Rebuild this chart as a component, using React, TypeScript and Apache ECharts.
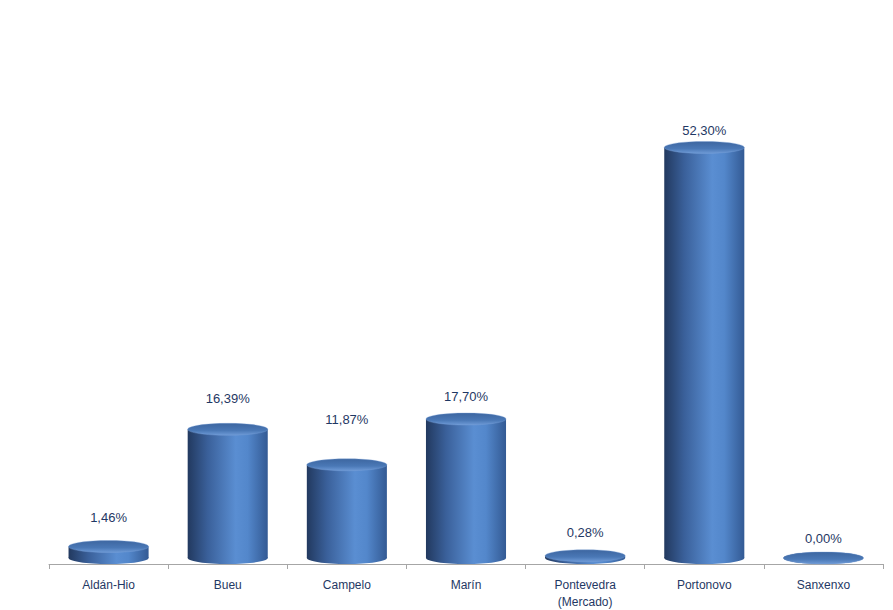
import React, { useEffect, useRef } from "react";
import * as echarts from "echarts";

const categories = ["Aldán-Hio", "Bueu", "Campelo", "Marín", "Pontevedra\n(Mercado)", "Portonovo", "Sanxenxo"];
const values = [1.46, 16.39, 11.87, 17.7, 0.28, 52.3, 0.0];
const valueLabels = ["1,46%", "16,39%", "11,87%", "17,70%", "0,28%", "52,30%", "0,00%"];

// label gap above the top ellipse (styling)
const labelGaps = [29, 31, 45, 23, 23, 17, 20];

export default function App() {
  const ref = useRef<HTMLDivElement>(null);
  useEffect(() => {
    if (!ref.current) return;
    const chart = echarts.init(ref.current, undefined, { renderer: "svg" });
    const bodyGrad = () =>
      new echarts.graphic.LinearGradient(0, 0, 1, 0, [
        { offset: 0, color: "#22395f" },
        { offset: 0.25, color: "#3a609a" },
        { offset: 0.6, color: "#5a8ed2" },
        { offset: 0.75, color: "#5387cb" },
        { offset: 1, color: "#335a94" },
      ]);
    const topGrad = () =>
      new echarts.graphic.LinearGradient(0, 0, 0, 1, [
        { offset: 0, color: "#3d66a0" },
        { offset: 0.6, color: "#4a78b6" },
        { offset: 1, color: "#6e9ad6" },
      ]);
    const option: any = {
      animation: false,
      grid: { left: 49, right: 10, top: 93, bottom: 44 },
      xAxis: {
        type: "category",
        data: categories,
        boundaryGap: true,
        axisLine: { lineStyle: { color: "#a6a6a6", width: 1 } },
        axisTick: { show: true, length: 5, lineStyle: { color: "#a6a6a6" }, interval: 0 },
        axisLabel: {
          interval: 0,
          margin: 12,
          color: "#1f3864",
          fontSize: 12,
          lineHeight: 17,
          fontFamily: "Liberation Sans",
        },
      },
      yAxis: { type: "value", min: 0, max: 60, show: false, splitLine: { show: false } },
      series: [
        {
          type: "custom",
          data: values.map((v, i) => [i, v]),
          renderItem: (params: any, api: any) => {
            const idx = api.value(0);
            const v = api.value(1);
            const base = api.coord([idx, 0]);
            const top = api.coord([idx, v]);
            const catW = api.size([1, 0])[0];
            const w = catW * 0.672;
            const rx = w / 2;
            const ry = 6;
            const cx = base[0];
            const yb = base[1] - ry;
            const yt = top[1] - ry;
            const i = params.dataIndex;
            const children: any[] = [
              {
                type: "ellipse",
                shape: { cx, cy: yb, rx, ry },
                style: { fill: bodyGrad() },
              },
            ];
            if (yb - yt > 0.5) {
              children.push({
                type: "rect",
                shape: { x: cx - rx, y: yt, width: w, height: yb - yt },
                style: { fill: bodyGrad() },
              });
            }
            children.push({
              type: "ellipse",
              shape: { cx, cy: yt, rx, ry },
              style: { fill: topGrad(), stroke: "rgba(120,160,215,0.6)", lineWidth: 0.6 },
            });
            children.push({
              type: "text",
              style: {
                x: cx,
                y: yt - labelGaps[i],
                text: valueLabels[i],
                fill: "#1f3864",
                font: "13px 'Liberation Sans'",
                align: "center",
                verticalAlign: "middle",
              },
            });
            return { type: "group", children };
          },
        },
      ],
    };
    chart.setOption(option);
    return () => chart.dispose();
  }, []);
  return (
    <div
      ref={ref}
      style={{ position: "fixed", left: 0, top: 0, width: 893, height: 610, background: "#fff" }}
    />
  );
}
